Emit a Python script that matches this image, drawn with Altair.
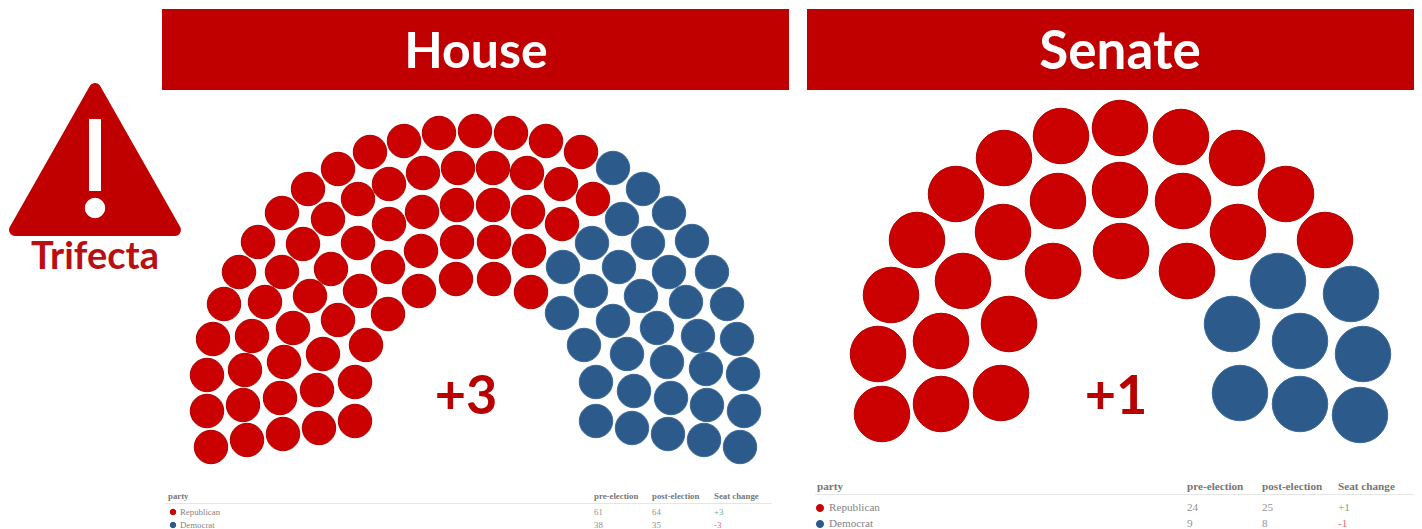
import altair as alt
import pandas as pd

RED = "#C00000"
DOT_RED = "#CB0000"
DOT_BLUE = "#2C5A8A"

# House seats, arc by arc (outer to inner)
house_red_x = [211,207,207,213,224,239,258,282,308,338,370,404,439,475,511,546,581,
               247,243,245,252,265,282,303,328,358,389,423,458,493,527,561,593,
               283,280,284,293,310,331,358,389,422,457,493,528,562,
               319,317,323,338,360,388,421,457,494,529,
               355,355,366,388,419,456,494,531]
house_red_y = [447,411,375,339,304,272,242,213,189,169,152,141,133,131,133,141,152,
               440,405,370,336,302,272,244,219,199,184,173,168,168,173,184,199,
               434,398,362,328,296,269,243,224,212,205,205,212,224,
               428,390,354,320,291,267,251,242,242,251,
               421,382,345,314,291,279,279,292]
house_blue_x = [613,643,669,692,712,727,737,743,744,740,
                622,648,669,686,698,706,707,704,
                592,619,641,657,667,671,668,
                563,591,613,627,634,632,
                562,584,596,596]
house_blue_y = [168,189,213,241,272,304,339,374,411,447,
                219,243,272,302,336,369,405,440,
                243,267,296,328,362,398,434,
                267,291,321,354,391,428,
                313,345,382,421]

# Senate seats
senate_red_x = [882,878,891,917,956,1004,1061,1120,1181,1237,1286,1325,
                941,941,963,1003,1058,1120,1183,1238,
                1001,1009,1053,1121,1187]
senate_red_y = [414,354,295,240,194,158,136,128,137,158,194,240,
                404,341,281,232,201,190,201,232,
                393,324,271,251,271]
senate_blue_x = [1351,1363,1360,1278,1300,1300,1232,1240]
senate_blue_y = [294,354,415,281,341,404,324,393]

# Banners
banner_x = [162, 807]
banner_x2 = [789, 1414]
banner_y = [9, 9]
banner_y2 = [90, 90]
banner_labels = ["House", "Senate"]
banner_label_x = [476, 1120]
banner_label_y = [53, 53]

# Warning sign
tri_x = [15, 95, 175]
tri_top = [230, 89, 230]
tri_base = [230, 230, 230]
bang_x, bang_x2, bang_y, bang_y2 = [89], [101], [119], [191]
bang_dot_x, bang_dot_y = [95], [208]

# Change labels
change_labels = ["+3", "+1"]
change_x = [466, 1116]
change_y = [398, 398]

# Table text
header_labels = ["party", "pre-election", "post-election", "Seat change"]
h_header_x = [168, 594, 652, 714]
s_header_x = [817, 1187, 1262, 1338]
row_labels = ["Republican", "Democrat"]
h_cells = [["61", "64", "+3"], ["38", "35", "-3"]]
s_cells = [["24", "25", "+1"], ["9", "8", "-1"]]
change_colors = ["#3f9a6a", "#d0455a"]

X = alt.Scale(domain=[8, 1414], nice=False, zero=False)
Y = alt.Scale(domain=[529, 8], nice=False, zero=False)


def ex(f="x"):
    return alt.X(f"{f}:Q", scale=X, axis=None)


def ey(f="y"):
    return alt.Y(f"{f}:Q", scale=Y, axis=None)


def dots(xs, ys, color, edge, size):
    df = pd.DataFrame({"x": xs, "y": ys})
    return alt.Chart(df).mark_point(filled=True, opacity=1, size=size, shape="circle", fill=color,
                                    stroke=edge, strokeWidth=1).encode(x=ex(), y=ey())


def texts(labels, xs, ys, size, color, weight="normal", font="Lato", align="center", opacity=1.0):
    df = pd.DataFrame({"t": labels, "x": xs, "y": ys})
    return alt.Chart(df).mark_text(fontSize=size, color=color, fontWeight=weight, font=font, align=align,
                                   baseline="middle", opacity=opacity).encode(x=ex(), y=ey(), text="t:N")


def rects(x, x2, y, y2, color):
    df = pd.DataFrame({"x": x, "x2": x2, "y": y, "y2": y2})
    return alt.Chart(df).mark_rect(color=color).encode(x=ex(), x2="x2:Q", y=ey(), y2="y2:Q")


def table(hx, hy, rule_x, rule_x2, rule_y, ys, dot_x, label_x, cells, size, dot_size):
    layers = [
        texts(header_labels, hx, [hy] * 4, size, "#555555", "bold", "Liberation Serif", "left", 0.8),
        rects([rule_x], [rule_x2], [rule_y], [rule_y + 1], "#e6e6e6"),
        dots([dot_x], [ys[0]], DOT_RED, DOT_RED, dot_size),
        dots([dot_x], [ys[1]], DOT_BLUE, DOT_BLUE, dot_size),
        texts(row_labels, [label_x] * 2, ys, size, "#666666", "normal", "Liberation Serif", "left", 0.8),
    ]
    for col in range(3):
        vals = [cells[0][col], cells[1][col]]
        if col < 2:
            layers.append(texts(vals, [hx[col + 1]] * 2, ys, size, "#777777", "normal", "Liberation Serif", "left", 0.8))
        else:
            for r in range(2):
                layers.append(texts([vals[r]], [hx[3]], [ys[r]], size, change_colors[r], "normal", "Liberation Serif", "left", 0.8))
    return layers


tri_df = pd.DataFrame({"x": tri_x, "y": tri_top, "y2": tri_base})
triangle = alt.Chart(tri_df).mark_area(color=RED, stroke=RED, strokeWidth=12, strokeJoin="round", opacity=1).encode(
    x=ex(), y=ey(), y2="y2:Q")

layers = [
    rects(banner_x, banner_x2, banner_y, banner_y2, RED),
    texts(banner_labels[:1], banner_label_x[:1], banner_label_y[:1], 50, "white", "bold"),
    texts(banner_labels[1:], banner_label_x[1:], banner_label_y[1:], 53, "white", "bold"),
    triangle,
    rects(bang_x, bang_x2, bang_y, bang_y2, "white"),
    dots(bang_dot_x, bang_dot_y, "white", "white", 380),
    texts(["Trifecta"], [95], [258], 38, "#B81010", "bold"),
    dots(house_red_x, house_red_y, DOT_RED, "#AE0000", 1120),
    dots(house_blue_x, house_blue_y, DOT_BLUE, "#3C6A9A", 1120),
    dots(senate_red_x, senate_red_y, DOT_RED, "#AE0000", 3080),
    dots(senate_blue_x, senate_blue_y, DOT_BLUE, "#3C6A9A", 3080),
    texts(change_labels, change_x, change_y, 54, "#B80000", "bold"),
]
layers += table(h_header_x, 496, 165, 772, 503, [512, 525], 173, 180, h_cells, 8.8, 30)
layers += table(s_header_x, 487, 815, 1414, 494, [508, 524], 820, 829, s_cells, 11.2, 50)

chart = alt.layer(*layers).properties(
    width=1406, height=521, padding=0,
    autosize=alt.AutoSizeParams(type="none"),
    background="white",
).configure_view(stroke=None)

chart.save("out.html", embed_options={"renderer": "svg", "actions": False})
